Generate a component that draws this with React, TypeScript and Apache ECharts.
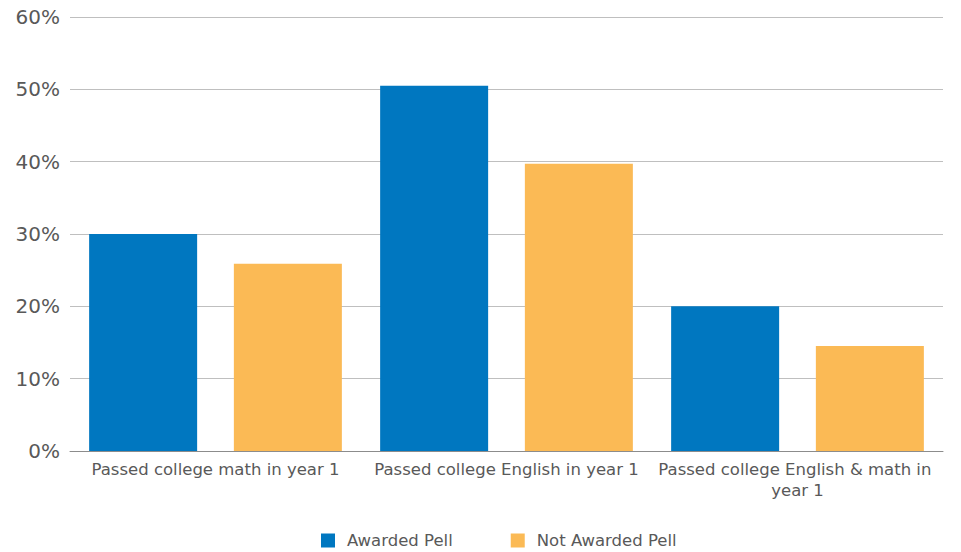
import React, { useEffect, useRef } from "react";
import * as echarts from "echarts";

const categories = [
  "Passed college math in year 1",
  "Passed college English in year 1",
  "Passed college English & math in year 1",
];
const awardedPell = [30.0, 50.5, 20.0];
const notAwardedPell = [25.9, 39.7, 14.5];
const seriesNames = ["Awarded Pell", "Not Awarded Pell"];

const FONT = "DejaVu Sans";
const TEXT = "#595959";

export default function App() {
  const ref = useRef<HTMLDivElement>(null);
  useEffect(() => {
    if (!ref.current) return;
    const chart = echarts.init(ref.current, null, { renderer: "svg" });
    chart.setOption({
      animation: false,
      textStyle: { fontFamily: FONT },
      grid: { left: 70, right: 18, top: 17, bottom: 101, containLabel: false },
      legend: {
        top: 527,
        left: 316,
        itemWidth: 14,
        itemHeight: 14,
        itemGap: 58,
        icon: "rect",
        textStyle: { color: TEXT, fontSize: 16.5, fontFamily: FONT, padding: [0, 0, 0, 7] },
        data: seriesNames,
      },
      xAxis: {
        type: "category",
        data: categories,
        axisTick: { show: false },
        axisLine: { lineStyle: { color: "#8c8c8c", width: 1 } },
        axisLabel: {
          color: TEXT,
          fontSize: 16.5,
          fontFamily: FONT,
          margin: 8,
          interval: 0,
          width: 288,
          overflow: "break",
          lineHeight: 21,
        },
      },
      yAxis: {
        type: "value",
        min: 0,
        max: 60,
        interval: 10,
        axisLabel: {
          color: TEXT,
          fontSize: 20,
          fontFamily: FONT,
          margin: 10,
          formatter: (v: number) => v + "%",
        },
        splitLine: { lineStyle: { color: "#bfbfbf", width: 1 } },
        axisLine: { show: false },
        axisTick: { show: false },
      },
      series: [
        {
          name: seriesNames[0],
          type: "bar",
          data: awardedPell,
          barWidth: 108,
          barGap: "34%",
          itemStyle: { color: "#0077C0" },
        },
        {
          name: seriesNames[1],
          type: "bar",
          data: notAwardedPell,
          barWidth: 108,
          itemStyle: { color: "#FBBA55" },
        },
      ],
    });
    return () => chart.dispose();
  }, []);
  return <div ref={ref} style={{ width: 961, height: 552, position: "absolute", left: 0, top: 0 }} />;
}
